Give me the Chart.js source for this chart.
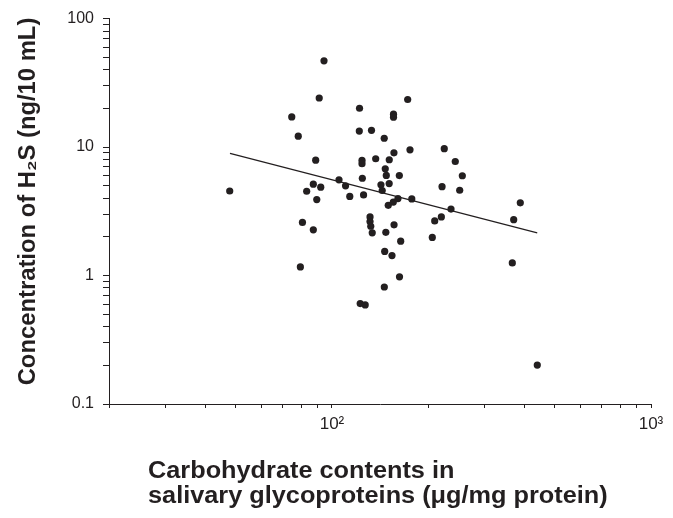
<!DOCTYPE html>
<html>
<head>
<meta charset="utf-8">
<script src="https://cdn.jsdelivr.net/npm/chart.js@4.4.1/dist/chart.umd.min.js"></script>
<style>
  html, body { margin: 0; padding: 0; background: #ffffff; }
  #wrap { width: 673px; height: 518px; position: relative; }
</style>
</head>
<body>
<div id="wrap"><canvas id="c" width="673" height="518"></canvas></div>
<script>
// Carbohydrate contents (µg/mg protein)
const carbohydrate = [
  47.8, 74.8, 78.4, 79.6, 80.8, 83.3, 87.4, 87.4, 88.9, 89.6,
  91.2, 92.2, 94.4, 105.2, 110.3, 113.7, 122.0, 121.8, 122.6, 127.1,
  124.2, 124.2, 124.5, 125.6, 131.6, 131.6, 132.3, 133.7, 133.0, 137.1,
  145.8, 146.9, 148.0, 142.4, 143.7, 151.1, 151.2, 150.1, 155.7, 161.0,
  155.9, 155.9, 156.4, 156.5, 147.5, 164.2, 146.3, 154.2, 162.8, 145.9,
  162.6, 172.7, 175.6, 177.9, 206.3, 209.9, 220.2, 221.3, 224.9, 236.1,
  243.5, 251.4, 256.2, 367.5, 371.2, 389.3, 440.1
];
// H2S concentration (ng/10 mL)
const h2s = [
  4.55, 17.15, 12.15, 1.167, 2.59, 4.53, 5.14, 2.27, 7.90, 3.90,
  24.1, 4.87, 46.9, 5.56, 4.99, 4.13, 20.05, 13.33, 0.605, 0.591,
  7.87, 7.42, 5.72, 4.24, 2.86, 2.63, 2.42, 2.15, 13.50, 8.11,
  11.71, 6.77, 6.02, 5.09, 4.59, 5.20, 7.97, 3.52, 3.73, 3.97,
  18.03, 17.09, 9.02, 2.48, 2.17, 1.85, 1.54, 1.43, 0.977, 0.814,
  6.00, 23.45, 9.51, 3.95, 1.98, 2.66, 2.86, 4.92, 9.72, 3.29,
  7.72, 4.61, 5.98, 1.253, 2.72, 3.68, 0.201
];
// Regression line end points
const fitX = [47.9, 440];
const fitY = [8.94, 2.15];

// Axis ticks and labels
const xTickValues = [20, 30, 40, 50, 60, 70, 80, 90, 100, 200, 300, 400, 500, 600, 700, 800, 900, 1000];
const xLabelValues = [100, 1000];
const xLabelTexts = ['10\u00B2', '10\u00B3'];
const yTickValues = [0.1, 0.2, 0.3, 0.4, 0.5, 0.6, 0.7, 0.8, 0.9, 1, 2, 3, 4, 5, 6, 7, 8, 9, 10, 20, 30, 40, 50, 60, 70, 80, 90, 100];
const yLabelValues = [0.1, 1, 10, 100];
const yLabelTexts = ['0.1', '1', '10', '100'];

const xTitleLines = ['Carbohydrate contents in', 'salivary glycoproteins (\u03BCg/mg protein)'];
const yTitle = 'Concentration of H\u2082S (ng/10 mL)';

const INK = '#231f20';
const FONT = "'Liberation Sans', Arial, Helvetica, sans-serif";

const points = carbohydrate.map((x, i) => ({ x: x, y: h2s[i] }));
const fitLine = fitX.map((x, i) => ({ x: x, y: fitY[i] }));

function labelFor(values, texts, v) {
  for (let i = 0; i < values.length; i++) {
    if (Math.abs(values[i] - v) / values[i] < 1e-6) return texts[i];
  }
  return '';
}

const titlePlugin = {
  id: 'axisTitles',
  afterDraw(chart) {
    const ctx = chart.ctx;
    ctx.save();
    ctx.fillStyle = INK;
    ctx.font = "bold 23px " + FONT;
    ctx.textBaseline = 'alphabetic';
    ctx.textAlign = 'left';
    // x-axis title, two left-aligned lines
    ctx.save();
    ctx.translate(148, 0);
    ctx.scale(1.1, 1);
    ctx.fillText(xTitleLines[0], 0, 478);
    ctx.fillText(xTitleLines[1], 0, 503);
    ctx.restore();
    // y-axis title, rotated
    ctx.save();
    ctx.translate(35, 201.5);
    ctx.rotate(-Math.PI / 2);
    ctx.scale(1.035, 1);
    ctx.textAlign = 'center';
    ctx.fillText(yTitle, 0, 0);
    ctx.restore();
    ctx.restore();
  }
};

new Chart(document.getElementById('c'), {
  type: 'scatter',
  data: {
    datasets: [
      {
        label: 'Samples',
        data: points,
        pointRadius: 3.6,
        pointHoverRadius: 3.6,
        backgroundColor: INK,
        borderWidth: 0,
        order: 1
      },
      {
        type: 'line',
        label: 'Fit',
        data: fitLine,
        showLine: true,
        pointRadius: 0,
        borderColor: INK,
        borderWidth: 1.2,
        fill: false,
        order: 2
      }
    ]
  },
  options: {
    responsive: false,
    animation: false,
    devicePixelRatio: 1,
    layout: { padding: { top: 15, right: 22, left: 0, bottom: 0 } },
    plugins: { legend: { display: false }, tooltip: { enabled: false }, title: { display: false } },
    scales: {
      x: {
        type: 'logarithmic',
        position: 'bottom',
        min: 20,
        max: 1000,
        afterBuildTicks: (s) => { s.ticks = xTickValues.map(v => ({ value: v })); },
        afterFit: (s) => { s.height = 114; },
        grid: { drawOnChartArea: false, drawTicks: true, tickLength: 4, color: INK, tickWidth: 1 },
        border: { display: true, color: INK, width: 1 },
        ticks: {
          autoSkip: false,
          maxRotation: 0,
          minRotation: 0,
          padding: 6,
          color: INK,
          font: { family: FONT, size: 17 },
          callback: (v) => labelFor(xLabelValues, xLabelTexts, v)
        }
      },
      y: {
        type: 'logarithmic',
        position: 'left',
        min: 0.1,
        max: 100,
        afterBuildTicks: (s) => { s.ticks = yTickValues.map(v => ({ value: v })); },
        afterFit: (s) => { s.width = 109; },
        grid: { drawOnChartArea: false, drawTicks: true, tickLength: 6, color: INK, tickWidth: 1 },
        border: { display: true, color: INK, width: 1 },
        ticks: {
          autoSkip: false,
          padding: 9,
          color: INK,
          font: { family: FONT, size: 16 },
          callback: (v) => labelFor(yLabelValues, yLabelTexts, v)
        }
      }
    }
  },
  plugins: [titlePlugin]
});
</script>
</body>
</html>
